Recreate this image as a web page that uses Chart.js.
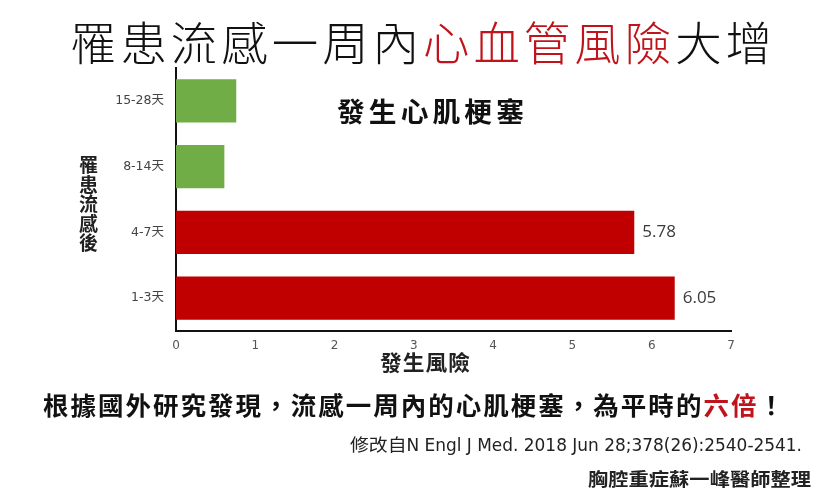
<!DOCTYPE html>
<html>
<head>
<meta charset="utf-8">
<script src="https://cdn.jsdelivr.net/npm/chart.js@4.4.0/dist/chart.umd.min.js"></script>
<style>
  html, body { margin:0; padding:0; background:#fff; }
  #wrap { position:relative; width:830px; height:498px; overflow:hidden; background:#fff; }
  #c { position:absolute; left:0; top:0; }
  .t { position:absolute; white-space:nowrap; font-family:"Noto Sans CJK TC","Noto Sans CJK SC",sans-serif; color:#111; line-height:1; transform-origin:left center; }
  .red { color:#c0141c; }
</style>
</head>
<body>
<div id="wrap">
  <canvas id="c" width="830" height="498"></canvas>
  <div class="t" id="title" data-l="70" data-r="776" style="left:70px; top:17px; font-size:46px; font-weight:300; letter-spacing:4px;">罹患流感一周內<span class="red">心血管風險</span>大增</div>
  <div class="t" id="sub" data-l="337" data-r="528" style="left:337px; top:97px; font-size:27px; font-weight:700; letter-spacing:4px;">發生心肌梗塞</div>
  <div class="t" id="ytitle" style="left:79px; top:154px; font-size:19px; font-weight:700; line-height:19.5px; white-space:normal; width:22px; color:#222;">罹<br>患<br>流<br>感<br>後</div>
  <div class="t" id="xtitle" data-l="380" data-r="471" style="left:380px; top:351px; font-size:21px; font-weight:700; letter-spacing:1px; color:#222;">發生風險</div>
  <div class="t" id="note" data-l="43" data-r="786" style="left:43px; top:392px; font-size:25px; font-weight:700; letter-spacing:2px; color:#111;">根據國外研究發現，流感一周內的心肌梗塞，為平時的<span class="red">六倍</span>！</div>
  <div class="t" id="cite" data-l="350" data-r="802" style="left:350px; top:437px; font-size:17px; font-family:'Liberation Sans Narrow','DejaVu Sans Condensed','Noto Sans CJK TC',sans-serif; color:#222;">修改自N Engl J Med. 2018 Jun 28;378(26):2540-2541.</div>
  <div class="t" id="author" data-l="588" data-r="811" style="left:588px; top:469px; font-size:18px; font-weight:700; color:#222;">胸腔重症蘇一峰醫師整理</div>
</div>
<script>
const categories = ['15-28天', '8-14天', '4-7天', '1-3天'];
const riskValues = [0.76, 0.61, 5.78, 6.29];
const valueLabels = ['', '', '5.78', '6.05'];
const barColors = ['#70ad47', '#70ad47', '#c00000', '#c00000'];
const xTickMin = 0;
const xTickMax = 7;

// fit text lines to the widths measured on the reference
document.querySelectorAll('[data-r]').forEach(el => {
  const target = (+el.dataset.r) - (+el.dataset.l);
  const w = el.getBoundingClientRect().width;
  if (w > 0) el.style.transform = 'scaleX(' + (target / w) + ')';
});

const valueLabelPlugin = {
  id: 'valueLabels',
  afterDatasetsDraw(chart) {
    const ctx = chart.ctx;
    const meta = chart.getDatasetMeta(0);
    ctx.save();
    ctx.font = '17px "Open Sans", "DejaVu Sans", sans-serif';
    ctx.fillStyle = '#3a3a3a';
    ctx.textAlign = 'left';
    ctx.textBaseline = 'middle';
    meta.data.forEach((bar, i) => {
      const txt = valueLabels[i];
      if (txt) ctx.fillText(txt, bar.x + 8, bar.y);
    });
    ctx.restore();
  }
};

new Chart(document.getElementById('c'), {
  type: 'bar',
  data: {
    labels: categories,
    datasets: [{
      data: riskValues,
      backgroundColor: barColors,
      borderWidth: 0,
      categoryPercentage: 1,
      barPercentage: 0.655
    }]
  },
  options: {
    indexAxis: 'y',
    responsive: false,
    animation: false,
    events: [],
    layout: { padding: { left: 0, top: 68, right: 99, bottom: 0 } },
    plugins: { legend: { display: false }, tooltip: { enabled: false }, title: { display: false } },
    scales: {
      x: {
        min: xTickMin,
        max: xTickMax,
        grid: { display: false, drawTicks: false },
        border: { display: true, color: '#111', width: 2 },
        ticks: {
          stepSize: 1,
          padding: 8,
          color: '#555',
          font: { family: '"DejaVu Sans", sans-serif', size: 12 }
        },
        afterFit(scale) { scale.height = 167; }
      },
      y: {
        grid: { display: false, drawTicks: false },
        border: { display: true, color: '#111', width: 2 },
        ticks: {
          padding: 12,
          color: '#444',
          font: { family: '"DejaVu Sans", "Noto Sans CJK TC", sans-serif', size: 12.5 }
        },
        afterFit(scale) { scale.width = 176; }
      }
    }
  },
  plugins: [valueLabelPlugin]
});
</script>
</body>
</html>
